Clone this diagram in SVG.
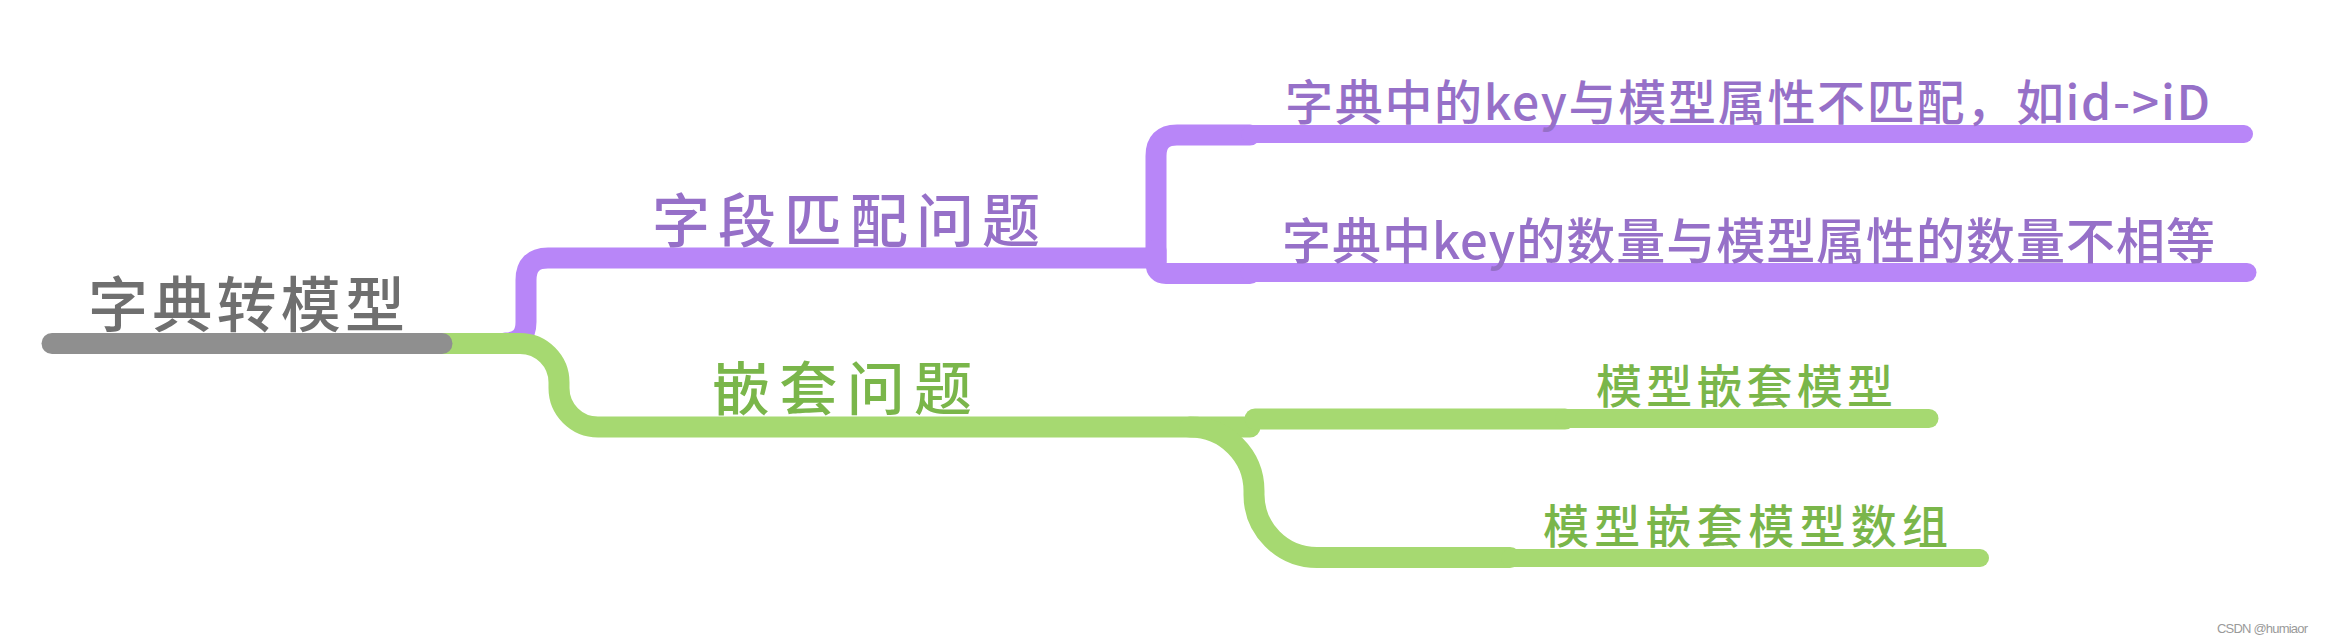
<svg xmlns="http://www.w3.org/2000/svg" width="2326" height="642" viewBox="0 0 2326 642">
<style>
  .t { font-family: "Noto Sans CJK SC", "Noto Sans", sans-serif; font-weight: 500; }
  .pl { fill: none; stroke: #b886f8; stroke-linecap: round; stroke-linejoin: round; }
  .gl { fill: none; stroke: #a6d971; stroke-linecap: round; stroke-linejoin: round; }
  .pt { fill: #9670c8; }
  .gt { fill: #7ab64a; }
</style>
<rect width="2326" height="642" fill="#ffffff"/>
<g id="connectors">
  <path class="pl" stroke-width="21" d="M 505,343 Q 526,343 526,322 L 526,280 Q 526,258 548,258 L 1150,258"/>
  <path class="pl" stroke-width="21" d="M 1156,262 L 1156,156 Q 1156,135 1177,135 L 1250,135"/>
  <path class="pl" stroke-width="21" d="M 1156,250 L 1156,263 Q 1156,273.5 1166,273.5 L 1250,273.5"/>
  <path class="gl" stroke-width="21" d="M 440,343.5 L 520,343.5 A 39,39 0 0 1 559,382.5 L 559,388 A 39,39 0 0 0 598,427 L 1250,427"/>
  <path class="gl" stroke-width="21" d="M 1190,427 A 64,64 0 0 1 1254,491 L 1254,494 A 63,63 0 0 0 1317,557.5 L 1510,557.5"/>
  <path class="gl" stroke-width="21" d="M 1255,419 L 1565,419"/>
</g>
<g id="root">
  <line x1="52" y1="343.5" x2="442" y2="343.5" stroke="#8f8f8f" stroke-width="21" stroke-linecap="round"/>
  <text class="t" x="88" y="327" font-size="60" fill="#6f6f6f" textLength="317" lengthAdjust="spacing">字典转模型</text>
</g>
<g id="n-field">
  <text class="t pt" x="652" y="242" font-size="58" textLength="388" lengthAdjust="spacing">字段匹配问题</text>
</g>
<g id="n-field-1">
  <line class="pl" x1="1250" y1="134" x2="2244" y2="134" stroke-width="18"/>
  <text class="t pt" x="1285" y="120" font-size="48" textLength="925" lengthAdjust="spacing">字典中的key与模型属性不匹配，如id-&gt;iD</text>
</g>
<g id="n-field-2">
  <line class="pl" x1="1250" y1="272.5" x2="2247" y2="272.5" stroke-width="19"/>
  <text class="t pt" x="1282" y="259" font-size="49" textLength="933" lengthAdjust="spacing">字典中key的数量与模型属性的数量不相等</text>
</g>
<g id="n-nest">
  <text class="t gt" x="712" y="410" font-size="58" textLength="260" lengthAdjust="spacing">嵌套问题</text>
</g>
<g id="n-nest-1">
  <line class="gl" x1="1565" y1="418.5" x2="1929" y2="418.5" stroke-width="19"/>
  <text class="t gt" x="1596" y="403" font-size="46" textLength="297" lengthAdjust="spacing">模型嵌套模型</text>
</g>
<g id="n-nest-2">
  <line class="gl" x1="1510" y1="558" x2="1980" y2="558" stroke-width="18"/>
  <text class="t gt" x="1543" y="543" font-size="46" textLength="405" lengthAdjust="spacing">模型嵌套模型数组</text>
</g>
<text x="2217" y="633" font-family="Liberation Sans, Arial, sans-serif" font-size="13" fill="#9a9a9a" textLength="91">CSDN @humiaor</text>
</svg>
